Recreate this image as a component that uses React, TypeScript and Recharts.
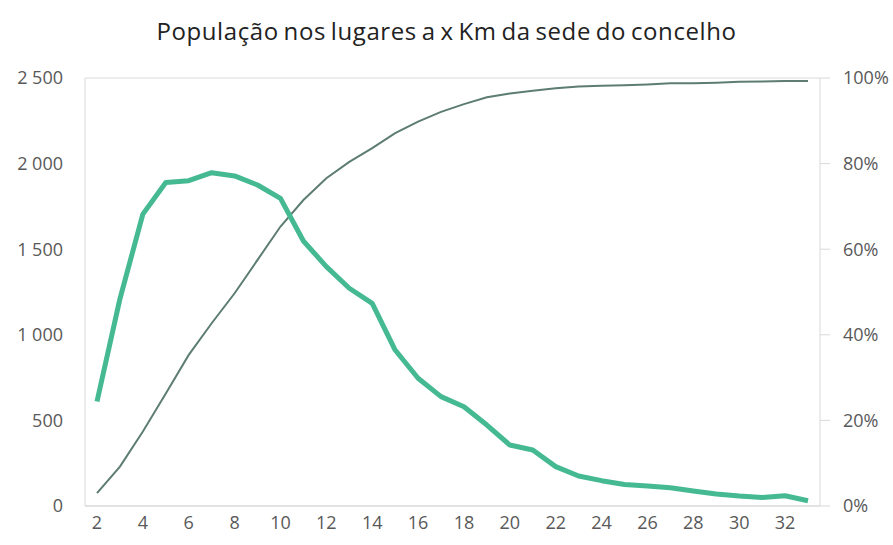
import { LineChart, Line, XAxis, YAxis, CartesianGrid } from "recharts";

const distances = [2, 3, 4, 5, 6, 7, 8, 9, 10, 11, 12, 13, 14, 15, 16, 17, 18, 19, 20, 21, 22, 23, 24, 25, 26, 27, 28, 29, 30, 31, 32, 33];
const population = [610, 1210, 1705, 1890, 1900, 1947, 1928, 1875, 1797, 1548, 1398, 1272, 1184, 911, 746, 639, 580, 473, 356, 327, 230, 175, 148, 126, 117, 107, 88, 70, 58, 49, 60, 31];
const cumulative = [3.0, 9.2, 17.4, 26.3, 35.3, 42.7, 49.7, 57.5, 65.3, 71.5, 76.6, 80.4, 83.6, 87.1, 89.8, 92.1, 93.9, 95.5, 96.4, 97.0, 97.6, 98.0, 98.2, 98.3, 98.5, 98.8, 98.8, 98.9, 99.1, 99.2, 99.3, 99.3];
const leftTicks = [0, 500, 1000, 1500, 2000, 2500];
const rightTicks = [0, 20, 40, 60, 80, 100];

const data = distances.map((d, i) => ({ km: d, pop: population[i], cum: cumulative[i] }));

const fmtThousands = (v: number) => String(v).replace(/\B(?=(\d{3})+(?!\d))/g, " ");

const tickStyle = { fontSize: 18, fill: "#595959", fontFamily: "'Open Sans', sans-serif" };

export default function App() {
  return (
    <div style={{ position: "absolute", left: 0, top: 0, width: 893, height: 545, background: "#fff" }}>
      <div
        style={{
          position: "absolute",
          top: 14,
          left: 0,
          width: 893,
          textAlign: "center",
          fontFamily: "'Open Sans', sans-serif",
          fontSize: 24,
          color: "#222",
          letterSpacing: 0.6,
          wordSpacing: -2,
        }}
      >
        População nos lugares a x Km da sede do concelho
      </div>
      <LineChart width={893} height={545} data={data} margin={{ top: 78, right: 0, bottom: 0, left: 0 }}>
        <CartesianGrid vertical={false} stroke="#d9d9d9" />
        <XAxis
          dataKey="km"
          interval={1}
          height={39}
          padding={{ left: 12, right: 12 }}
          tickLine={false}
          tickSize={0}
          tickMargin={10}
          stroke="#d9d9d9"
          tick={tickStyle}
        />
        <YAxis
          yAxisId="left"
          width={85}
          domain={[0, 2500]}
          ticks={leftTicks}
          tickFormatter={fmtThousands}
          tickLine={false}
          tickSize={0}
          tickMargin={22}
          stroke="#d9d9d9"
          tick={tickStyle}
        />
        <YAxis
          yAxisId="right"
          orientation="right"
          width={73}
          domain={[0, 100]}
          ticks={rightTicks}
          tickFormatter={(v: number) => `${v}%`}
          tickLine={{ stroke: "#d9d9d9" }}
          tickSize={10}
          tickMargin={13}
          stroke="#d9d9d9"
          tick={tickStyle}
        />
        <Line
          yAxisId="right"
          type="linear"
          dataKey="cum"
          stroke="#5e7d72"
          strokeWidth={2}
          dot={false}
          isAnimationActive={false}
        />
        <Line
          yAxisId="left"
          type="linear"
          dataKey="pop"
          stroke="#45b992"
          strokeWidth={5}
          strokeLinejoin="round"
          dot={false}
          isAnimationActive={false}
        />
      </LineChart>
    </div>
  );
}
